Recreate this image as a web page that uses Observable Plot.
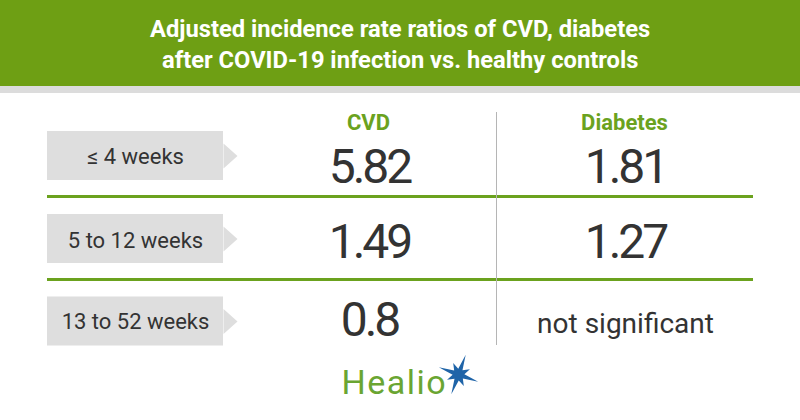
<!DOCTYPE html>
<html><head><meta charset="utf-8">
<script src="https://cdn.jsdelivr.net/npm/d3@7"></script>
<script src="https://cdn.jsdelivr.net/npm/@observablehq/plot@0.6"></script>
<style>
body{margin:0;background:#fff;width:800px;height:420px;overflow:hidden;font-family:Roboto,sans-serif}
#title{height:86px;background:#6e9f14;color:#fff;position:relative;font-weight:700;font-size:23px;}
#title span{position:absolute;left:400px;white-space:nowrap;transform-origin:0 0;line-height:1}
#strip{height:7px;background:#dcdcdc}
#chart svg{font-family:Roboto,sans-serif}
</style></head><body>
<div id="title"><span id="t1"></span><span id="t2"></span></div>
<div id="strip"></div>
<div id="chart"></div>
<script>
// ---- data ----
const titleLines = ["Adjusted incidence rate ratios of CVD, diabetes", "after COVID-19 infection vs. healthy controls"];
const periods = ["≤ 4 weeks", "5 to 12 weeks", "13 to 52 weeks"];
const outcomes = ["CVD", "Diabetes"];
const cvd = [5.82, 1.49, 0.8];
const diabetes = [1.81, 1.27, null];
const notSig = "not significant";
const brand = "Healio";

// ---- title fit (layout only) ----
const titleTops = [18, 49];
const titleWidths = [500, 476];
["t1", "t2"].forEach((id, i) => {
  const s = document.getElementById(id);
  s.textContent = titleLines[i];
  const w = s.offsetWidth;
  const k = titleWidths[i] / w;
  s.style.top = titleTops[i] + "px";
  s.style.transform = `scaleX(${k}) translateX(${-w / 2}px)`;
});

// ---- layout (svg pixels) ----
const L = {
  W: 800, H: 327,
  boxX1: 47, boxX2: 223, tipX: 237, labelX: 135,
  rowY: [62.5, 145.5, 228], boxHalf: 24.5, arrowHalf: 12.5,
  labelBase: [70, 154, 235],
  valueBase: [89, 164, 242],
  colX: {CVD: 369, Diabetes: 625},
  headerBase: 36,
  ruleY: [103, 186], ruleX1: 47, ruleX2: 753,
  divX: 496, divY1: 19, divY2: 252,
  logoX: 341, logoBase: 300, starX: 458, starY: 281
};
const green = "#6ba21e", dark = "#333333", box = "#dedede";

const cells = [];
periods.forEach((p, i) => {
  cells.push({col: "CVD", row: i, text: String(cvd[i]), big: true});
  cells.push({col: "Diabetes", row: i, text: diabetes[i] == null ? notSig : String(diabetes[i]), big: diabetes[i] != null});
});

const arrows = periods.flatMap((p, i) => [
  {p, x: L.boxX2, y: L.rowY[i] - L.arrowHalf},
  {p, x: L.tipX, y: L.rowY[i]},
  {p, x: L.boxX2, y: L.rowY[i] + L.arrowHalf}
]);

const star = {
  draw(ctx, size) {
    const R = Math.sqrt(size / Math.PI);
    const n = 8;
    const rot = -Math.PI / 2 + 0.35;
    for (let k = 0; k < n * 2; k++) {
      const a = (k * Math.PI) / n + rot;
      const outer = (k / 2) % 2 === 0 ? R : R * 0.6;
      const r = k % 2 === 0 ? outer : R * 0.28;
      const x = r * Math.cos(a), y = r * Math.sin(a);
      if (k === 0) ctx.moveTo(x, y); else ctx.lineTo(x, y);
    }
    ctx.closePath();
  }
};

const chart = Plot.plot({
  width: L.W, height: L.H, margin: 0,
  style: {fontFamily: "Roboto, sans-serif"},
  x: {domain: [0, L.W], range: [0, L.W], axis: null},
  y: {domain: [0, L.H], range: [0, L.H], axis: null},
  marks: [
    Plot.rect(periods, {x1: () => L.boxX1, x2: () => L.boxX2, y1: (d, i) => L.rowY[i] - L.boxHalf, y2: (d, i) => L.rowY[i] + L.boxHalf, fill: box}),
    Plot.line(arrows, {x: "x", y: "y", z: "p", fill: box, stroke: "none"}),
    Plot.text(periods, {x: () => L.labelX, y: (d, i) => L.labelBase[i], text: d => d, lineAnchor: "bottom", fontSize: 22, fill: dark}),
    Plot.ruleY(L.ruleY, {y: d => d, x1: L.ruleX1, x2: L.ruleX2, stroke: green, strokeWidth: 3}),
    Plot.ruleX([L.divX], {x: d => d, y1: L.divY1, y2: L.divY2, stroke: "#b5b5b5", strokeWidth: 1}),
    Plot.text(outcomes, {x: d => L.colX[d] - 1, y: () => L.headerBase, text: d => d, lineAnchor: "bottom", fontSize: 22, fontWeight: 700, fill: green}),
    Plot.text(cells.filter(c => c.big), {x: c => L.colX[c.col], y: c => L.valueBase[c.row], text: "text", lineAnchor: "bottom", fontSize: 48, fill: dark, className: "big"}),
    Plot.text(cells.filter(c => !c.big), {x: c => L.colX[c.col], y: c => L.valueBase[c.row] - 3, text: "text", lineAnchor: "bottom", fontSize: 28, fill: dark}),
    Plot.text([brand], {x: () => L.logoX, y: () => L.logoBase, text: d => d, lineAnchor: "bottom", textAnchor: "start", fontSize: 34, fill: "#6aa532", className: "brand"}),
    Plot.dot([brand], {x: () => L.starX, y: () => L.starY, r: 21, symbol: star, fill: "#1f64a8", stroke: "none"})
  ]
});
document.getElementById("chart").append(chart);
chart.querySelectorAll(".brand text").forEach(t => t.setAttribute("letter-spacing", "1.5"));
chart.querySelectorAll(".big text").forEach(t => t.setAttribute("letter-spacing", "-3"));
</script>
</body></html>
